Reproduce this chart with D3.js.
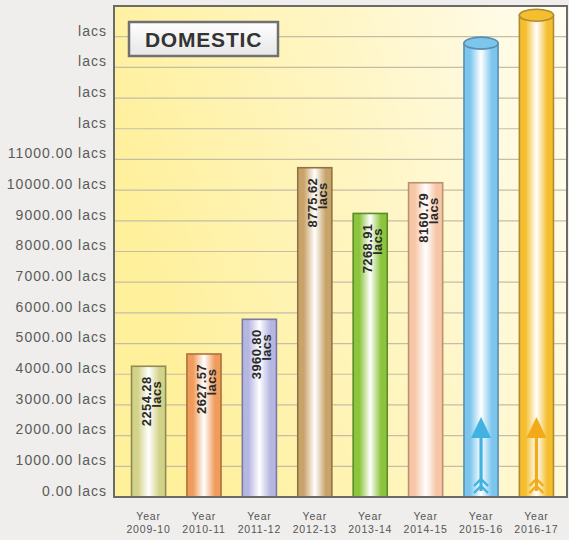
<!DOCTYPE html>
<html lang="en">
<head>
    <meta charset="UTF-8">
    <title>Domestic</title>
    <style>
        body {
            margin: 0;
            background: #efeeec;
            font-family: 'Liberation Sans', Arial, sans-serif;
        }
        #chart svg { display: block; }
    </style>
</head>
<body>
    <div id="chart"></div>

    <script src="https://cdnjs.cloudflare.com/ajax/libs/d3/7.8.5/d3.min.js"></script>
    <script>
        // data (bar heights follow the drawing, labels follow the printed text)
        const years = ["2009-10", "2010-11", "2011-12", "2012-13", "2013-14", "2014-15", "2015-16", "2016-17"];
        const heights = [4260, 4660, 5790, 10730, 9240, 10240, 14790, 15700];
        const valueLabels = ["2254.28", "2627.57", "3960.80", "8775.62", "7268.91", "8160.79", "", ""];
        const tickValues = [0, 1000, 2000, 3000, 4000, 5000, 6000, 7000, 8000, 9000, 10000, 11000, 12000, 13000, 14000, 15000];
        const tickLabels = ["0.00 lacs", "1000.00 lacs", "2000.00 lacs", "3000.00 lacs", "4000.00 lacs", "5000.00 lacs",
            "6000.00 lacs", "7000.00 lacs", "8000.00 lacs", "9000.00 lacs", "10000.00 lacs", "11000.00 lacs",
            "lacs", "lacs", "lacs", "lacs"];
        const barColors = ["#d2d288", "#f09c5c", "#b6b6e2", "#c9a46a", "#8cc43c", "#f7c6a6", "#7cc6ee", "#f4be2e"];
        const barStrokes = ["#8e8c52", "#b0703e", "#7a7aa2", "#8e7444", "#5c8c2c", "#b89272", "#5a8eb2", "#b08a30"];
        const arrowColors = ["", "", "", "", "", "", "#42b2e2", "#f2aa1a"];

        const W = 569, H = 540;
        const frame = { left: 114, top: 6, right: 567, bottom: 497 };

        const svg = d3.select("#chart").append("svg")
            .attr("width", W).attr("height", H);
        const defs = svg.append("defs");

        // plot background
        const bg = defs.append("linearGradient").attr("id", "bg")
            .attr("x1", "0%").attr("y1", "30%").attr("x2", "100%").attr("y2", "0%");
        bg.append("stop").attr("offset", "0%").attr("stop-color", "#fff09c");
        bg.append("stop").attr("offset", "55%").attr("stop-color", "#fff6c8");
        bg.append("stop").attr("offset", "100%").attr("stop-color", "#fffdf2");

        svg.append("rect")
            .attr("x", frame.left).attr("y", frame.top)
            .attr("width", frame.right - frame.left).attr("height", frame.bottom - frame.top)
            .attr("fill", "url(#bg)");

        // scales
        const x = d3.scaleBand()
            .domain(years)
            .range([121, 564])
            .paddingInner(0.385)
            .paddingOuter(0.19);

        const y = d3.scaleLinear()
            .domain([0, 16000])
            .range([frame.bottom, frame.top]);

        // grid lines
        svg.append("g")
            .selectAll("line")
            .data(tickValues.slice(1))
            .enter()
            .append("line")
            .attr("x1", frame.left).attr("x2", frame.right)
            .attr("y1", d => y(d)).attr("y2", d => y(d))
            .attr("stroke", "#c4bea4")
            .attr("stroke-width", 1.2);

        // y axis labels
        const yAxis = svg.append("g")
            .attr("transform", `translate(${frame.left},0)`)
            .call(d3.axisLeft(y).tickValues(tickValues).tickSize(0).tickPadding(7)
                .tickFormat((d, i) => tickLabels[i]));
        yAxis.select(".domain").remove();
        yAxis.selectAll("text")
            .attr("dy", "-0.12em")
            .style("font-family", "'Liberation Sans', Arial, sans-serif")
            .style("font-size", "14px")
            .style("letter-spacing", "1px")
            .attr("fill", "#5b5b5b");

        // bar gradients
        barColors.forEach((c, i) => {
            const g = defs.append("linearGradient").attr("id", "bar" + i)
                .attr("x1", "0%").attr("x2", "100%").attr("y1", "0%").attr("y2", "0%");
            g.append("stop").attr("offset", "0%").attr("stop-color", c);
            g.append("stop").attr("offset", "18%").attr("stop-color", c);
            g.append("stop").attr("offset", "50%").attr("stop-color", "#ffffff");
            g.append("stop").attr("offset", "82%").attr("stop-color", c);
            g.append("stop").attr("offset", "100%").attr("stop-color", c);
        });

        const bars = svg.append("g")
            .selectAll("g")
            .data(years)
            .enter()
            .append("g");

        bars.append("rect")
            .attr("x", d => x(d))
            .attr("y", (d, i) => y(heights[i]))
            .attr("width", x.bandwidth())
            .attr("height", (d, i) => y(0) - y(heights[i]))
            .attr("fill", (d, i) => `url(#bar${i})`)
            .attr("stroke", (d, i) => barStrokes[i])
            .attr("stroke-width", 1.6);

        // cylinder caps on the last two bars
        bars.filter((d, i) => arrowColors[i] !== "")
            .append("ellipse")
            .attr("cx", d => x(d) + x.bandwidth() / 2)
            .attr("cy", d => y(heights[years.indexOf(d)]))
            .attr("rx", x.bandwidth() / 2)
            .attr("ry", 6)
            .attr("fill", d => barColors[years.indexOf(d)])
            .attr("stroke", d => barStrokes[years.indexOf(d)])
            .attr("stroke-width", 1.6);

        // value labels inside the bars
        bars.filter((d, i) => valueLabels[i] !== "")
            .each(function (d) {
                const i = years.indexOf(d);
                const cx = x(d) + x.bandwidth() / 2;
                const top = y(heights[i]);
                const g = d3.select(this).append("g")
                    .attr("transform", `translate(${cx},${top}) rotate(-90)`);
                g.append("text")
                    .attr("x", -35).attr("y", 2)
                    .attr("text-anchor", "middle")
                    .style("font-size", "13px")
                    .style("font-weight", "bold")
                    .style("letter-spacing", "0.4px")
                    .attr("fill", "#2a2a2a")
                    .text(valueLabels[i]);
                g.append("text")
                    .attr("x", -28).attr("y", 12)
                    .attr("text-anchor", "middle")
                    .style("font-size", "13px")
                    .style("font-weight", "bold")
                    .style("letter-spacing", "0.4px")
                    .attr("fill", "#2a2a2a")
                    .text("lacs");
            });

        // arrows in the last two bars
        bars.filter((d, i) => arrowColors[i] !== "")
            .each(function (d) {
                const i = years.indexOf(d);
                const cx = x(d) + x.bandwidth() / 2;
                const base = y(0);
                const col = arrowColors[i];
                const g = d3.select(this).append("g").attr("transform", `translate(${cx},${base})`);
                g.append("rect").attr("x", -1.6).attr("y", -64).attr("width", 3.2).attr("height", 58).attr("fill", col);
                g.append("path").attr("d", "M0,-80 L-10,-59 L10,-59 Z").attr("fill", col);
                g.append("path").attr("d", "M-7,-11 L0,-18 L7,-11 M-7,-4 L0,-11 L7,-4")
                    .attr("fill", "none").attr("stroke", col).attr("stroke-width", 2.4);
            });

        // frame
        svg.append("rect")
            .attr("x", frame.left).attr("y", frame.top)
            .attr("width", frame.right - frame.left).attr("height", frame.bottom - frame.top)
            .attr("fill", "none")
            .attr("stroke", "#6a6a66")
            .attr("stroke-width", 2);

        // x axis labels
        const xl = svg.append("g")
            .selectAll("text")
            .data(years)
            .enter()
            .append("text")
            .attr("x", d => x(d) + x.bandwidth() / 2)
            .attr("y", 520)
            .attr("text-anchor", "middle")
            .style("font-size", "10.5px")
            .style("letter-spacing", "0.8px")
            .attr("fill", "#555");
        xl.append("tspan").attr("x", d => x(d) + x.bandwidth() / 2).text("Year");
        xl.append("tspan").attr("x", d => x(d) + x.bandwidth() / 2).attr("dy", 13).text(d => d);

        // title box
        const tb = svg.append("g").attr("transform", "translate(129,22)");
        const tg = defs.append("linearGradient").attr("id", "tbox")
            .attr("x1", "0%").attr("x2", "0%").attr("y1", "0%").attr("y2", "100%");
        tg.append("stop").attr("offset", "0%").attr("stop-color", "#ffffff");
        tg.append("stop").attr("offset", "100%").attr("stop-color", "#e6e6e6");
        tb.append("rect").attr("width", 149).attr("height", 34)
            .attr("fill", "url(#tbox)").attr("stroke", "#707070").attr("stroke-width", 2.5);
        tb.append("text")
            .attr("x", 74.5).attr("y", 25)
            .attr("text-anchor", "middle")
            .style("font-size", "21px")
            .style("font-weight", "bold")
            .style("letter-spacing", "0.8px")
            .attr("fill", "#333")
            .text("DOMESTIC");
    </script>
</body>
</html>
